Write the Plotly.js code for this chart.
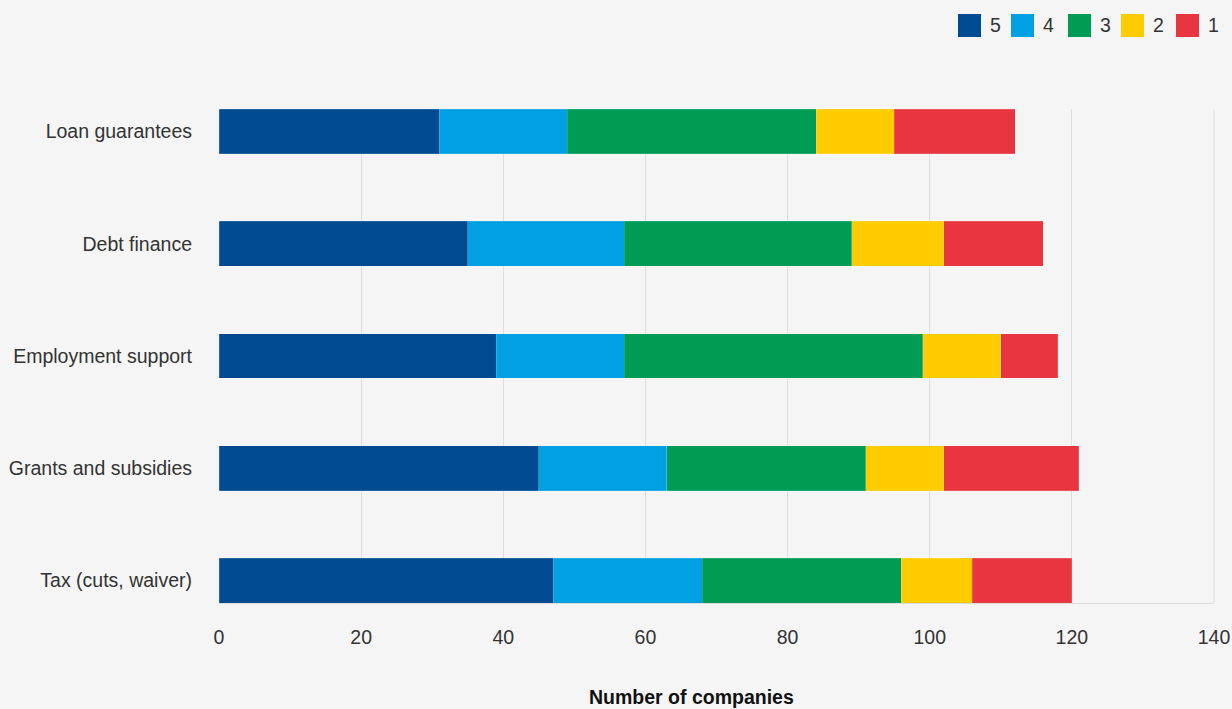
<!DOCTYPE html>
<html>
<head>
<meta charset="utf-8">
<script src="https://cdn.plot.ly/plotly-3.0.1.min.js"></script>
<style>
html,body{margin:0;padding:0;background:#f5f5f5;}
#chart{width:1232px;height:709px;}
</style>
</head>
<body>
<div id="chart"></div>
<script>
// Categories, top to bottom as displayed
const categories = ["Loan guarantees", "Debt finance", "Employment support", "Grants and subsidies", "Tax (cuts, waiver)"];
// Series values (number of companies per rating)
const rating5 = [31, 35, 39, 45, 47];
const rating4 = [18, 22, 18, 18, 21];
const rating3 = [35, 32, 42, 28, 28];
const rating2 = [11, 13, 11, 11, 10];
const rating1 = [17, 14, 8, 19, 14];
const seriesNames = ["5", "4", "3", "2", "1"];
const xTicks = [0, 20, 40, 60, 80, 100, 120, 140];

const series = [rating5, rating4, rating3, rating2, rating1];
const colors = ["#004a92", "#00a0e2", "#009b55", "#ffcc00", "#e8353f"];
const FONT = "Liberation Sans, Arial, sans-serif";
const FS = 19.5;

const traces = series.map((vals, i) => ({
  type: "bar",
  orientation: "h",
  name: seriesNames[i],
  x: vals,
  y: categories,
  width: 0.4,
  marker: {color: colors[i], line: {width: 0.6, color: "rgba(255,255,255,0.25)"}},
  showlegend: false,
  hoverinfo: "x+name"
}));

// Legend drawn as swatches + labels (paper coords)
const L = 219, R = 1214, T = 109, B = 603;
const W = R - L, H = B - T;
const px = v => (v - L) / W;
const py = v => (B - v) / H;
const swatchX = [958, 1011, 1068, 1121, 1176];
const shapes = [];
const annotations = [];
seriesNames.forEach((n, i) => {
  shapes.push({type: "rect", xref: "paper", yref: "paper",
    x0: px(swatchX[i]), x1: px(swatchX[i] + 23), y0: py(37), y1: py(14),
    fillcolor: colors[i], line: {width: 0}});
  annotations.push({xref: "paper", yref: "paper", x: px(swatchX[i] + 30), y: py(25),
    xanchor: "left", yanchor: "middle", text: n, showarrow: false,
    font: {family: FONT, size: FS, color: "#333333"}});
});
annotations.push({xref: "paper", yref: "paper", x: px(691), y: py(697),
  xanchor: "center", yanchor: "middle", text: "<b>Number of companies</b>", showarrow: false,
  font: {family: FONT, size: FS, color: "#111111"}});

const layout = {
  width: 1232, height: 709,
  paper_bgcolor: "#f5f5f5", plot_bgcolor: "#f5f5f5",
  margin: {l: L, r: 1232 - R, t: T, b: 709 - B},
  barmode: "stack",
  showlegend: false,
  font: {family: FONT, size: FS, color: "#333333"},
  xaxis: {
    range: [0, 140], tickvals: xTicks, ticktext: xTicks.map(String),
    showgrid: true, gridcolor: "#dedede", gridwidth: 1,
    zeroline: false, showline: true, linecolor: "#dcdcdc", linewidth: 1,
    ticks: "", ticklabelstandoff: 17,
    tickfont: {family: FONT, size: FS, color: "#333333"}, fixedrange: true
  },
  yaxis: {
    type: "category", categoryorder: "array", categoryarray: categories,
    range: [4.2, -0.2], showgrid: false, zeroline: false, showline: false,
    ticks: "", ticklabelstandoff: 26,
    tickfont: {family: FONT, size: FS, color: "#333333"}, fixedrange: true
  },
  shapes: shapes.concat([{type: "line", xref: "paper", yref: "paper", x0: 1, x1: 1, y0: 0, y1: 1,
    line: {color: "#dcdcdc", width: 1}}]),
  annotations: annotations
};

Plotly.newPlot("chart", traces, layout, {displayModeBar: false, staticPlot: true});
</script>
</body>
</html>
